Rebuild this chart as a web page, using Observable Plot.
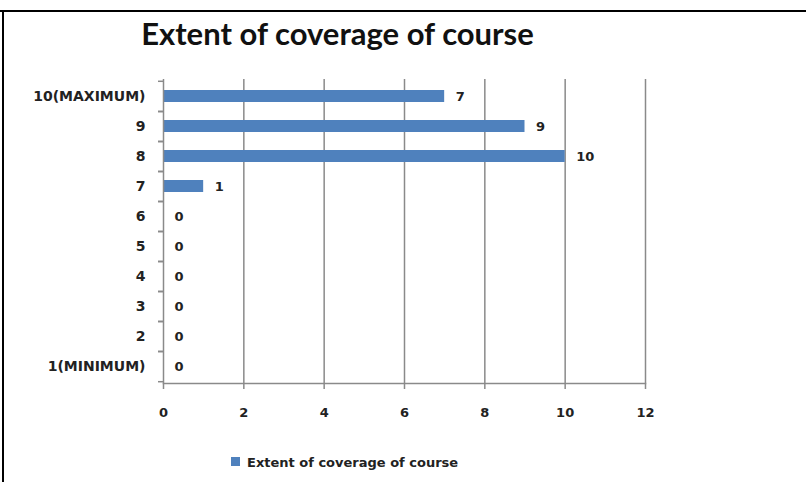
<!DOCTYPE html>
<html>
<head>
<meta charset="utf-8">
<script src="https://cdn.jsdelivr.net/npm/d3@7"></script>
<script src="https://cdn.jsdelivr.net/npm/@observablehq/plot@0.6"></script>
<style>
  html, body { margin: 0; padding: 0; background: #fff; }
  #wrap { position: relative; width: 806px; height: 482px; overflow: hidden; }
  #topline { position: absolute; left: 0; top: 10px; width: 806px; height: 2px; background: #000; }
  #leftline { position: absolute; left: 2px; top: 10px; width: 2px; height: 472px; background: #000; }
  #title { position: absolute; left: 0; width: 675px; top: 15px; text-align: center; font-family: Lato, sans-serif; font-weight: bold; font-size: 31px; line-height: 1.2; color: #111; }
  #chart { position: absolute; left: 0; top: 0; }
  #legend { position: absolute; left: 231px; top: 456px; height: 13px; font-family: "DejaVu Sans", sans-serif; font-weight: bold; font-size: 13px; line-height: 13px; color: #222; white-space: nowrap; }
  #legend .sw { position: absolute; left: 0; top: 1px; width: 9px; height: 9px; background: #4F81BD; }
  #legend .tx { position: absolute; left: 16px; top: 0; }
</style>
</head>
<body>
<div id="wrap">
  <div id="chart"></div>
  <div id="topline"></div>
  <div id="leftline"></div>
  <div id="title"></div>
  <div id="legend"><span class="sw"></span><span class="tx" id="legtext"></span></div>
</div>
<script>
const title = "Extent of coverage of course";
const seriesName = "Extent of coverage of course";
const categories = ["10(MAXIMUM)", "9", "8", "7", "6", "5", "4", "3", "2", "1(MINIMUM)"];
const values = [7, 9, 10, 1, 0, 0, 0, 0, 0, 0];
const xTicks = [0, 2, 4, 6, 8, 10, 12];

const data = categories.map((c, i) => ({category: c, value: values[i]}));

document.getElementById("title").textContent = title;
document.getElementById("legtext").textContent = seriesName;

const plotTop = 79, plotBottom = 383, H = 440;
const step = (plotBottom - plotTop) / categories.length;

const chart = Plot.plot({
  width: 806,
  height: H,
  marginTop: plotTop,
  marginBottom: H - plotBottom,
  marginLeft: 163,
  marginRight: 161,
  style: {fontFamily: "'DejaVu Sans', sans-serif", fontWeight: "bold", fontSize: "13px", color: "#222", background: "transparent"},
  x: {domain: [0, 12], ticks: xTicks},
  y: {domain: categories, paddingInner: 0.6, paddingOuter: 0.3},
  marks: [
    Plot.gridX(xTicks.filter(d => d > 0), {stroke: "#8a8a8a", strokeOpacity: 1, strokeWidth: 1.5}),
    Plot.barX(data, {x: "value", y: "category", fill: "#4F81BD"}),
    Plot.text(data, {x: "value", y: "category", text: d => String(d.value), textAnchor: "start", dx: 11, fill: "#222", fontSize: 13}),
    Plot.ruleX([0], {stroke: "#8a8a8a", strokeWidth: 1.5}),
    Plot.frame({anchor: "bottom", stroke: "#8a8a8a", strokeWidth: 1.5}),
    Plot.axisX({ticks: xTicks, tickSize: 6, tickPadding: 18, stroke: "#8a8a8a", strokeWidth: 1.5, fill: "#222", fontSize: 13, label: null}),
    Plot.axisY({tickSize: 0, tickPadding: 18, fill: "#222", fontSize: 14, label: null}),
    Plot.axisY({tickSize: 5, tickFormat: () => "", dy: -step / 2, stroke: "#8a8a8a", strokeWidth: 1.5, label: null}),
    Plot.axisY({tickSize: 5, tickFormat: () => "", dy: step / 2, stroke: "#8a8a8a", strokeWidth: 1.5, label: null})
  ]
});
document.getElementById("chart").appendChild(chart);
</script>
</body>
</html>
